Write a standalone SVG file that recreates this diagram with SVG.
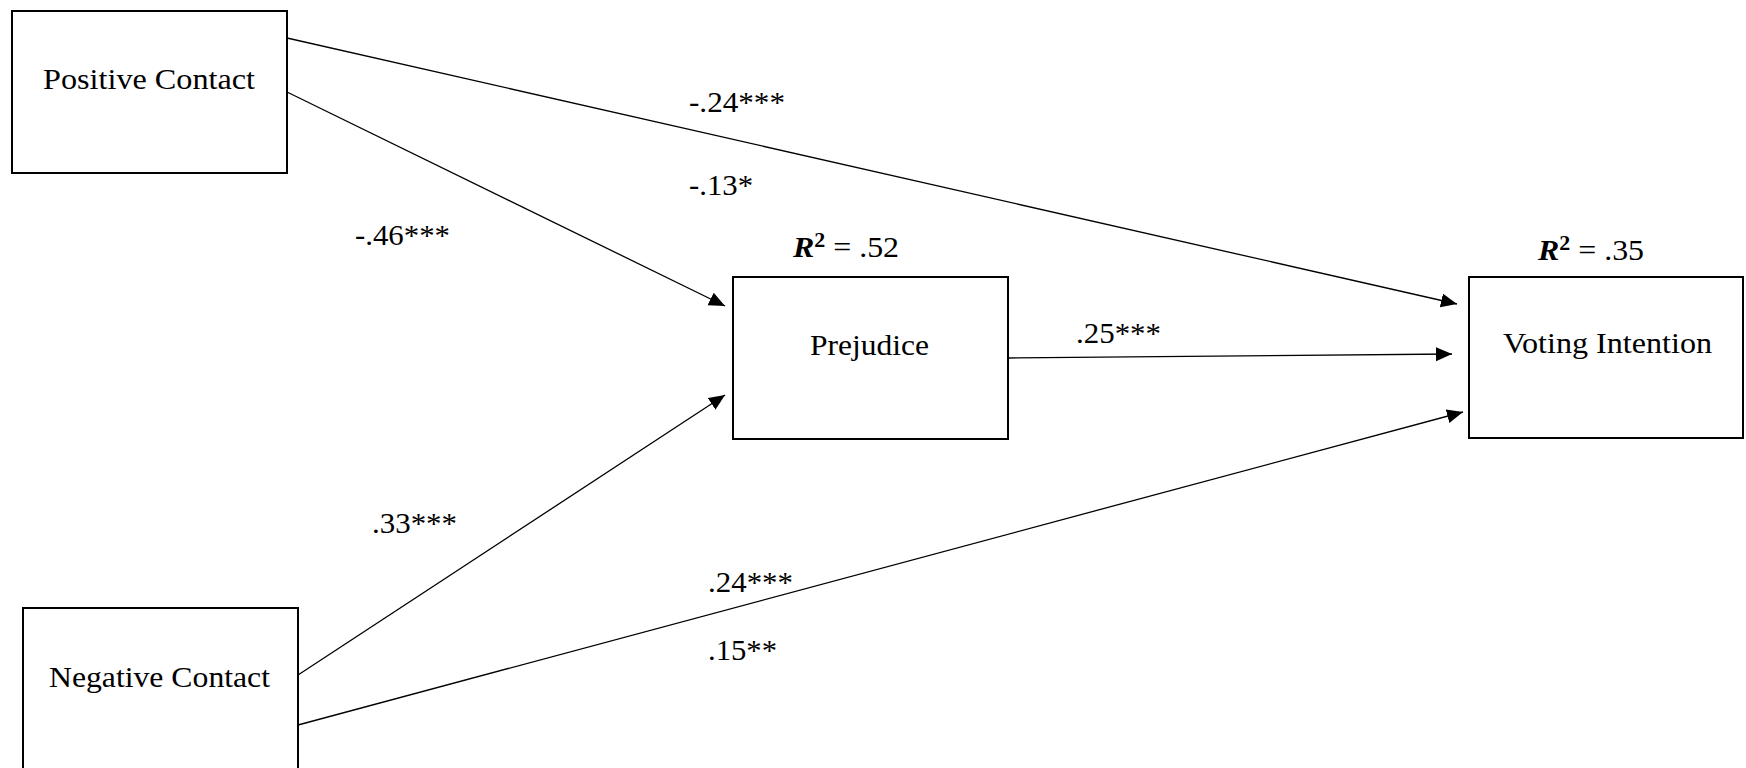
<svg xmlns="http://www.w3.org/2000/svg" width="1746" height="768" viewBox="0 0 1746 768">
<style>
.box{fill:#fff;stroke:#000;stroke-width:2}
.t{font-family:"Liberation Serif","Times New Roman",serif;font-size:29px;fill:#000}
.edge{stroke:#000;stroke-width:1.3;fill:none;marker-end:url(#ah)}
</style>
<defs>
<marker id="ah" markerUnits="userSpaceOnUse" markerWidth="17" markerHeight="15" refX="16" refY="7" orient="auto">
<path d="M0,0 L16,7 L0,14 z" fill="#000"/>
</marker>
</defs>
<rect width="1746" height="768" fill="#fff"/>
<g id="connectors">
<line class="edge" x1="287" y1="38" x2="1457" y2="304"/>
<line class="edge" x1="287" y1="92" x2="725" y2="306"/>
<line class="edge" x1="298" y1="675" x2="725" y2="395"/>
<line class="edge" x1="298" y1="725" x2="1463" y2="412"/>
<line class="edge" x1="1008" y1="358" x2="1452" y2="354"/>
</g>
<g id="labels">
<text class="t" x="689" y="112" textLength="96" lengthAdjust="spacingAndGlyphs">-.24***</text>
<text class="t" x="689" y="195" textLength="64" lengthAdjust="spacingAndGlyphs">-.13*</text>
<text class="t" x="355" y="245" textLength="95" lengthAdjust="spacingAndGlyphs">-.46***</text>
<text class="t" x="372" y="533" textLength="85" lengthAdjust="spacingAndGlyphs">.33***</text>
<text class="t" x="708" y="592" textLength="85" lengthAdjust="spacingAndGlyphs">.24***</text>
<text class="t" x="708" y="660" textLength="69" lengthAdjust="spacingAndGlyphs">.15**</text>
<text class="t" x="1076" y="343" textLength="85" lengthAdjust="spacingAndGlyphs">.25***</text>
</g>
<g id="positive-contact">
<rect class="box" x="12" y="11" width="275" height="162"/>
<text class="t" x="43" y="89" textLength="212" lengthAdjust="spacingAndGlyphs">Positive Contact</text>
</g>
<g id="prejudice">
<rect class="box" x="733" y="277" width="275" height="162"/>
<text class="t" x="810" y="355" textLength="119" lengthAdjust="spacingAndGlyphs">Prejudice</text>
<text class="t" transform="translate(793,257) scale(1.1,1)"><tspan font-weight="bold" font-style="italic">R</tspan><tspan font-weight="bold" font-size="20" dy="-10">2</tspan><tspan dy="10"> = .52</tspan></text>
</g>
<g id="voting-intention">
<rect class="box" x="1469" y="277" width="274" height="161"/>
<text class="t" x="1503" y="353" textLength="209" lengthAdjust="spacingAndGlyphs">Voting Intention</text>
<text class="t" transform="translate(1538,260) scale(1.1,1)"><tspan font-weight="bold" font-style="italic">R</tspan><tspan font-weight="bold" font-size="20" dy="-10">2</tspan><tspan dy="10"> = .35</tspan></text>
</g>
<g id="negative-contact">
<rect class="box" x="23" y="608" width="275" height="162"/>
<text class="t" x="49" y="687" textLength="221" lengthAdjust="spacingAndGlyphs">Negative Contact</text>
</g>
</svg>
